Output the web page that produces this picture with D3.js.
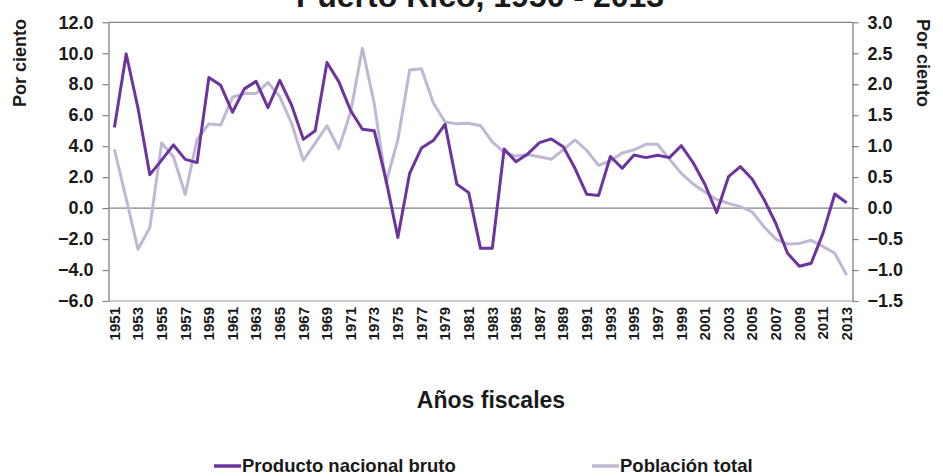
<!DOCTYPE html>
<html>
<head>
<meta charset="utf-8">
<script src="https://cdn.jsdelivr.net/npm/d3@7/dist/d3.min.js"></script>
<style>
  html, body { margin: 0; padding: 0; background: #fff; }
  svg { display: block; }
  text { font-family: "Liberation Sans", Arial, Helvetica, sans-serif; font-weight: bold; fill: #1a1a1a; }
</style>
</head>
<body>
<svg id="chart" width="943" height="476"></svg>
<script>
const years = d3.range(1951, 2014);
const tickYears = d3.range(1951, 2014, 2);
const leftTicks = [12, 10, 8, 6, 4, 2, 0, -2, -4, -6];
const rightTicks = [3.0, 2.5, 2.0, 1.5, 1.0, 0.5, 0.0, -0.5, -1.0, -1.5];

// Producto nacional bruto (left axis, %)
const pnb = [
  5.2, 9.95, 6.45, 2.16, 3.1, 4.08, 3.15, 2.94, 8.43, 7.93,
  6.19, 7.7, 8.19, 6.49, 8.25, 6.66, 4.44, 5.0, 9.4, 8.17,
  6.3, 5.09, 5.0, 1.82, -1.9, 2.25, 3.88, 4.36, 5.41, 1.54,
  1.0, -2.6, -2.6, 3.81, 3.0, 3.5, 4.23, 4.47, 3.97, 2.57,
  0.89, 0.82, 3.33, 2.57, 3.43, 3.26, 3.41, 3.26, 4.03, 2.94,
  1.54, -0.29, 2.03, 2.68, 1.88, 0.57, -0.98, -2.92, -3.76, -3.56,
  -1.63, 0.91, 0.35
];
// Población total (right axis, %)
const pob = [
  0.95, 0.15, -0.665, -0.315, 1.05, 0.83, 0.22, 1.11, 1.36, 1.34,
  1.79, 1.85, 1.85, 2.03, 1.80, 1.37, 0.77, 1.05, 1.33, 0.96,
  1.55, 2.58, 1.69, 0.41, 1.1, 2.23, 2.25, 1.70, 1.39, 1.36,
  1.37, 1.33, 1.07, 0.90, 0.84, 0.86, 0.83, 0.79, 0.94, 1.10,
  0.93, 0.69, 0.76, 0.89, 0.94, 1.03, 1.03, 0.79, 0.56, 0.39,
  0.26, 0.14, 0.077, 0.023, -0.06, -0.30, -0.50, -0.58, -0.57, -0.52,
  -0.62, -0.73, -1.08
];

const titleText = "Puerto Rico, 1950 - 2013";
const xTitle = "Años fiscales";
const yTitle = "Por ciento";
const seriesNames = ["Producto nacional bruto", "Población total"];
const colors = ["#6c349e", "#bfb8d4"];

const svg = d3.select("#chart");
const L = 108.5, R = 852.5, T = 22.3, B = 301;

const x = d3.scaleBand().domain(years).range([L, R]).paddingInner(0).paddingOuter(0);
const yL = d3.scaleLinear().domain([-6, 12]).range([B, T]);
const yR = d3.scaleLinear().domain([-1.5, 3]).range([B, T]);
const cx = d => x(d) + x.bandwidth() / 2;

// frame lines
svg.append("line").attr("x1", L).attr("x2", R).attr("y1", T).attr("y2", T)
  .attr("stroke", "#808080").attr("stroke-width", 1.3);
svg.append("line").attr("x1", L).attr("x2", R).attr("y1", B).attr("y2", B)
  .attr("stroke", "#b8b8b8").attr("stroke-width", 1.5);
svg.append("line").attr("x1", L).attr("x2", R).attr("y1", yL(0)).attr("y2", yL(0))
  .attr("stroke", "#808080").attr("stroke-width", 1.3);

// left axis
const gL = svg.append("g").attr("transform", `translate(${L},0)`)
  .call(d3.axisLeft(yL).tickValues(leftTicks).tickFormat(d3.format(".1f")).tickSize(6).tickSizeOuter(0));
gL.select(".domain").attr("stroke", "#808080").attr("stroke-width", 1.3);
gL.selectAll(".tick line").attr("stroke", "#808080").attr("stroke-width", 1.2);
gL.selectAll(".tick text").attr("x", -15).attr("font-size", 18).style("font-family", "Liberation Sans, Arial, sans-serif").style("font-weight", "bold").attr("fill", "#1a1a1a");

// right axis
const gR = svg.append("g").attr("transform", `translate(${R},0)`)
  .call(d3.axisRight(yR).tickValues(rightTicks).tickFormat(d3.format(".1f")).tickSize(6).tickSizeOuter(0));
gR.select(".domain").attr("stroke", "#808080").attr("stroke-width", 1.3);
gR.selectAll(".tick line").attr("stroke", "#808080").attr("stroke-width", 1.2);
gR.selectAll(".tick text").attr("x", 15).attr("font-size", 18).style("font-family", "Liberation Sans, Arial, sans-serif").style("font-weight", "bold").attr("fill", "#1a1a1a");

// x labels
svg.append("g").selectAll("text").data(tickYears).join("text")
  .attr("transform", d => `translate(${cx(d)},307) rotate(-90)`)
  .attr("text-anchor", "end").attr("dy", "0.35em").attr("font-size", 15)
  .text(d => d);

// lines
const lineL = d3.line().x((d, i) => cx(years[i])).y(d => yL(d));
const lineR = d3.line().x((d, i) => cx(years[i])).y(d => yR(d));
svg.append("path").datum(pob).attr("d", lineR).attr("fill", "none")
  .attr("stroke", colors[1]).attr("stroke-width", 3).attr("stroke-linejoin", "round");
svg.append("path").datum(pnb).attr("d", lineL).attr("fill", "none")
  .attr("stroke", colors[0]).attr("stroke-width", 3).attr("stroke-linejoin", "round");

// titles
svg.append("text").attr("x", 480).attr("y", 7).attr("text-anchor", "middle")
  .attr("font-size", 32).text(titleText);
svg.append("text").attr("transform", "translate(26,63) rotate(-90)").attr("text-anchor", "middle")
  .attr("font-size", 18).text(yTitle);
svg.append("text").attr("transform", "translate(917,63) rotate(90)").attr("text-anchor", "middle")
  .attr("font-size", 18).text(yTitle);
svg.append("text").attr("x", 491).attr("y", 408).attr("text-anchor", "middle")
  .attr("font-size", 23).text(xTitle);

// legend
const legX = [214, 592];
seriesNames.forEach((name, i) => {
  svg.append("line").attr("x1", legX[i]).attr("x2", legX[i] + 27).attr("y1", 466).attr("y2", 466)
    .attr("stroke", colors[i]).attr("stroke-width", 3.5);
  svg.append("text").attr("x", legX[i] + 28).attr("y", 472).attr("font-size", 18.5).text(name);
});
</script>
</body>
</html>
